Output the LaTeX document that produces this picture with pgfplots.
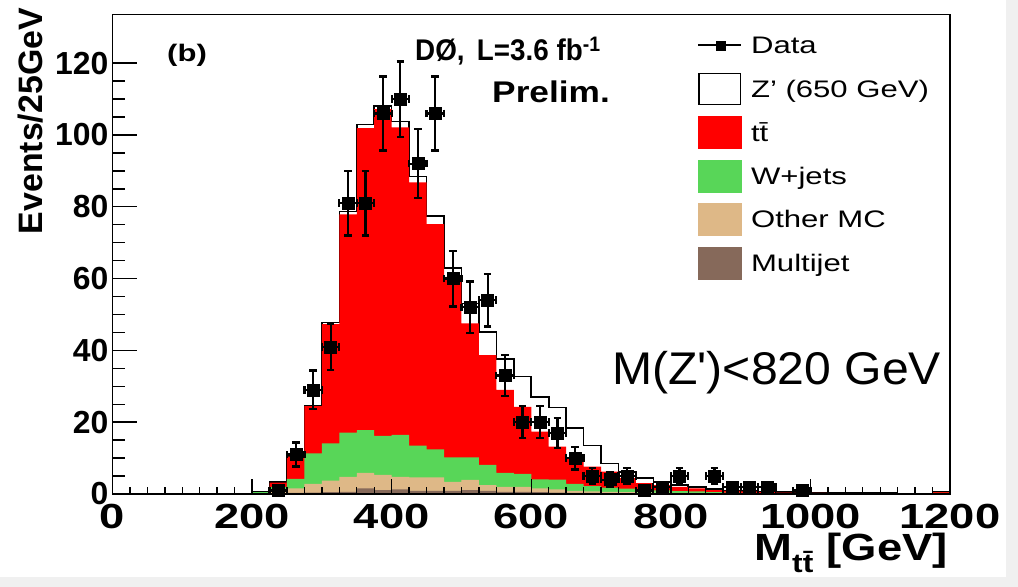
\documentclass[border=0pt]{standalone}
\usepackage{pgfplots}
\usepackage{pgfplotstable}
\pgfplotsset{compat=1.18}
\usepackage{fontspec}
\setmainfont{Liberation Sans}
\newfontfamily\rawsans{Liberation Sans}[Ligatures=TeXOff]
\definecolor{ttred}{RGB}{255,0,0}
\definecolor{wjgreen}{RGB}{88,214,88}
\definecolor{othertan}{RGB}{222,184,135}
\definecolor{mjbrown}{RGB}{134,105,90}

\pgfplotstableread{
x tot sm wj oth mj
200 0.6 0.5 0.5 0.2 0.0
225 3.4 3.2 2.0 0.8 0.2
250 10.6 10.4 4.2 1.6 0.3
275 24.7 24.5 11.3 2.8 0.4
300 47.8 47.3 14.1 3.7 0.5
325 78.7 77.9 17.1 4.8 0.6
350 102.9 101.9 17.8 5.9 1.6
375 108.1 107.2 16.2 5.3 1.1
400 103.7 102.1 16.5 4.8 1.3
425 88.4 86.8 13.5 4.6 0.9
450 77.5 75.2 12.4 4.6 0.9
475 62.9 60.5 10.2 3.4 0.9
500 53.1 47.5 10.2 3.9 1.1
525 45.2 38.7 8.1 2.5 0.9
550 37.6 29.0 5.9 2.0 0.6
575 32.7 24.3 5.6 2.0 0.6
600 27.1 17.4 4.1 1.6 0.5
625 24.1 13.2 4.0 1.3 0.4
650 18.3 9.9 2.8 0.9 0.3
675 13.5 7.6 2.2 0.7 0.3
700 8.5 6.2 1.8 0.6 0.2
725 6.2 4.4 1.5 0.5 0.2
750 4.4 3.0 1.2 0.4 0.1
775 3.3 2.5 1.0 0.4 0.1
800 2.5 2.0 0.8 0.3 0.1
825 1.9 1.6 0.7 0.3 0.1
850 1.4 1.1 0.5 0.2 0.1
875 1.0 0.9 0.4 0.2 0.0
900 0.8 0.7 0.3 0.1 0.0
925 0.6 0.5 0.2 0.1 0.0
950 0.5 0.4 0.2 0.1 0.0
975 0.4 0.3 0.1 0.1 0.0
1000 0.3 0.3 0.1 0.0 0.0
1025 0.3 0.2 0.1 0.0 0.0
1050 0.2 0.2 0.1 0.0 0.0
1075 0.2 0.2 0.1 0.0 0.0
1100 0.2 0.2 0.0 0.0 0.0
1125 0.1 0.1 0.0 0.0 0.0
1150 0.1 0.1 0.0 0.0 0.0
1175 0.6 0.5 0.3 0.2 0.1
1200 0.6 0.5 0.3 0.2 0.1
}\mc

\pgfplotstableread{
x y ex ey
237.5 1 12.5 1
262.5 11 12.5 3.32
287.5 29 12.5 5.39
312.5 41 12.5 6.40
337.5 81 12.5 9
362.5 81 12.5 9
387.5 106 12.5 10.30
412.5 110 12.5 10.49
437.5 92 12.5 9.59
462.5 106 12.5 10.30
487.5 60 12.5 7.75
512.5 52 12.5 7.21
537.5 54 12.5 7.35
562.5 33 12.5 5.74
587.5 20 12.5 4.47
612.5 20 12.5 4.47
637.5 17 12.5 4.12
662.5 10 12.5 3.16
687.5 5 12.5 2.24
712.5 4 12.5 2
737.5 5 12.5 2.24
762.5 1 12.5 1
787.5 2 12.5 1.41
812.5 5 12.5 2.24
862.5 5 12.5 2.24
887.5 2 12.5 1.41
912.5 2 12.5 1.41
937.5 2 12.5 1.41
987.5 1 12.5 1
}\data

\begin{document}
\begin{tikzpicture}
\useasboundingbox (0bp,0bp) rectangle (1018bp,587bp);
\fill[black!6] (0bp,0bp) rectangle (1018bp,587bp);
\fill[white] (0bp,10bp) rectangle (1006bp,587bp);

\begin{axis}[
  at={(112.5bp,93bp)}, anchor=south west,
  scale only axis, width=837.5bp, height=479.3bp,
  xmin=0, xmax=1200, ymin=0, ymax=133.5,
  axis on top=true,
  axis line style={line width=1.5bp, black},
  xtick={0,200,...,1200}, minor x tick num=7,
  ytick=\empty,
  xtick pos=left,
  tick align=inside, major tick length=15bp, minor tick length=7bp,
  every tick/.style={black, line width=1.4bp},
  /pgf/number format/assume math mode=true,
  /pgf/number format/1000 sep={},
  xticklabel style={font=\bfseries\fontsize{35}{35}\selectfont, anchor=north, inner sep=0pt, yshift=-10bp, xscale=1.3},
  legend style={at={(0.698,0.982)}, anchor=north west, draw=none, fill=none, inner sep=0pt, row sep=0pt, column sep=9bp,
    nodes={inner sep=0pt, minimum height=43.5bp, text depth=0pt, font=\fontsize{24}{24}\selectfont, xscale=1.3}},
  legend cell align=left,
]
\addlegendimage{legend image code/.code={\draw[black,line width=1.8bp] (0bp,0bp) -- (43bp,0bp); \fill[black] (18bp,-4.5bp) rectangle (27bp,4.5bp);}}
\addlegendentry{Data}
\addlegendimage{legend image code/.code={\draw[black,line width=1.5bp,fill=white] (0.7bp,-15.5bp) rectangle (42.3bp,15.5bp);}}
\addlegendentry{Z' (650 GeV)}
\addlegendimage{legend image code/.code={\fill[ttred] (0bp,-16bp) rectangle (43bp,16bp);}}
\addlegendentry{t\=t}
\addlegendimage{legend image code/.code={\fill[wjgreen] (0bp,-16bp) rectangle (43bp,16bp);}}
\addlegendentry{W+jets}
\addlegendimage{legend image code/.code={\fill[othertan] (0bp,-16bp) rectangle (43bp,16bp);}}
\addlegendentry{Other MC}
\addlegendimage{legend image code/.code={\fill[mjbrown] (0bp,-16bp) rectangle (43bp,16bp);}}
\addlegendentry{Multijet}

\addplot[forget plot, const plot, draw=black, line width=1.6bp, fill=white] table[x=x,y=tot]{\mc} \closedcycle;
\addplot[forget plot, const plot, draw=none, fill=ttred] table[x=x,y=sm]{\mc} \closedcycle;
\addplot[forget plot, const plot, draw=none, fill=wjgreen] table[x=x,y=wj]{\mc} \closedcycle;
\addplot[forget plot, const plot, draw=none, fill=othertan] table[x=x,y=oth]{\mc} \closedcycle;
\addplot[forget plot, const plot, draw=none, fill=mjbrown] table[x=x,y=mj]{\mc} \closedcycle;

\addplot[forget plot, black, only marks, mark=square*, mark size=6bp,
  error bars/.cd, x dir=both, x explicit, y dir=both, y explicit,
  error bar style={line width=2.2bp, black},
  error mark options={rotate=90, line width=2.2bp, mark size=3.8bp, black}]
  table[x=x, y=y, x error=ex, y error=ey] {\data};
\end{axis}

\begin{axis}[
  at={(112.5bp,93bp)}, anchor=south west,
  scale only axis, width=837.5bp, height=479.3bp,
  xmin=0, xmax=1200, ymin=0, ymax=133.5,
  axis line style={draw=none},
  xtick=\empty,
  ytick={0,20,...,120}, minor y tick num=3,
  ytick pos=left,
  tick align=inside, major tick length=25bp, minor tick length=13bp,
  every tick/.style={black, line width=1.4bp},
  /pgf/number format/assume math mode=true,
  yticklabel style={font=\bfseries\fontsize{32}{32}\selectfont, anchor=east, inner sep=0pt, xshift=-4bp},
]
\end{axis}

\node[rotate=90, anchor=base east, inner sep=0pt, font=\bfseries\fontsize{34}{34}\selectfont] at (42bp,579bp) {Events/25GeV};
\node[anchor=base east, inner sep=0pt, font=\bfseries\fontsize{38}{38}\selectfont, xscale=1.2] at (948bp,27bp) {M\textsubscript{t\=t} [GeV]};
\node[anchor=center, inner sep=0pt, font=\bfseries\fontsize{24}{24}\selectfont, xscale=1.3] at (187bp,532bp) {(b)};
\node[anchor=base west, inner sep=0pt, font=\bfseries\fontsize{30}{30}\selectfont, xscale=0.93] at (415bp,526bp) {DØ,\, L=3.6 fb\textsuperscript{-1}};
\node[anchor=base west, inner sep=0pt, font=\bfseries\fontsize{30}{30}\selectfont, xscale=1.18] at (492bp,484bp) {Prelim.};
\node[anchor=base west, inner sep=0pt, font=\rawsans\fontsize{46}{46}\selectfont, xscale=1.05] at (612bp,202bp) {M(Z')<820 GeV};
\end{tikzpicture}
\end{document}
